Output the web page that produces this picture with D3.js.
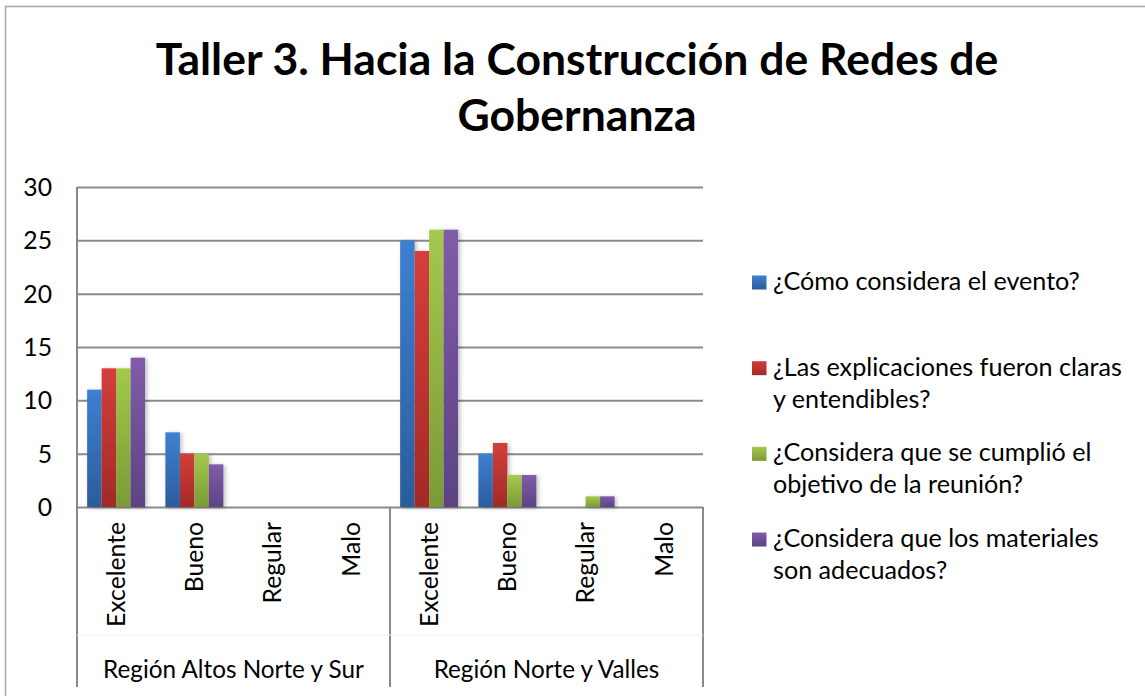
<!DOCTYPE html>
<meta charset="utf-8">
<style>
  body { margin: 0; background: #fff; }
  text { font-family: Lato, "Open Sans", sans-serif; fill: #000; }
</style>
<svg id="chart" width="1145" height="696"></svg>
<script src="https://d3js.org/d3.v7.min.js"></script>
<script>

var regions = ["Región Altos Norte y Sur", "Región Norte y Valles"],
    ratings = ["Excelente", "Bueno", "Regular", "Malo"],
    questions = [
      "¿Cómo considera el evento?",
      "¿Las explicaciones fueron claras y entendibles?",
      "¿Considera que se cumplió el objetivo de la reunión?",
      "¿Considera que los materiales son adecuados?"
    ],
    titleLines = ["Taller 3. Hacia la Construcción de Redes de", "Gobernanza"],
    yTicks = [0, 5, 10, 15, 20, 25, 30];

// values per question, region 1 (4 ratings) then region 2 (4 ratings)
var comoEvento    = [11, 7, 0, 0, 25, 5, 0, 0],
    explicaciones = [13, 5, 0, 0, 24, 6, 0, 0],
    objetivo      = [13, 5, 0, 0, 26, 3, 1, 0],
    materiales    = [14, 4, 0, 0, 26, 3, 1, 0];

var series = [comoEvento, explicaciones, objetivo, materiales];

var colors = [
  ["#3d80d1", "#2b5c9c"],
  ["#d53e3b", "#a22a27"],
  ["#a4c94d", "#7a9a36"],
  ["#805ca9", "#5c4383"]
];

var svg = d3.select("#chart"),
    plot = {left: 77, right: 703, top: 187, bottom: 507};

// gradients and bar shadow
var defs = svg.append("defs");
colors.forEach(function(c, i) {
  var g = defs.append("linearGradient")
      .attr("id", "grad" + i)
      .attr("x1", 0).attr("y1", 0).attr("x2", 0).attr("y2", 1);
  g.append("stop").attr("offset", "0%").attr("stop-color", c[0]);
  g.append("stop").attr("offset", "100%").attr("stop-color", c[1]);
});
defs.append("filter")
    .attr("id", "shadow")
    .attr("x", "-30%").attr("y", "-10%").attr("width", "170%").attr("height", "130%")
  .append("feDropShadow")
    .attr("dx", 2).attr("dy", 1).attr("stdDeviation", 2)
    .attr("flood-color", "#000").attr("flood-opacity", 0.25);

// chart border
svg.append("rect")
    .attr("x", 5.5).attr("y", 6.5)
    .attr("width", 1160).attr("height", 720)
    .attr("fill", "none")
    .attr("stroke", "#a6a6a6")
    .attr("stroke-width", 1.5);

function fitFont(sel, target) {
  var fs = parseFloat(sel.attr("font-size")),
      w = sel.node().getComputedTextLength();
  return fs * target / w;
}

// title
var title = svg.append("g").attr("font-weight", "bold");
var t1 = title.append("text")
    .attr("x", 577).attr("y", 75)
    .attr("text-anchor", "middle")
    .attr("font-size", 40)
    .text(titleLines[0]);
var titleSize = fitFont(t1, 843);
title.selectAll("text").remove();
title.selectAll("text")
    .data(titleLines)
  .enter().append("text")
    .attr("x", 577)
    .attr("y", function(d, i) { return 75 + i * 56; })
    .attr("text-anchor", "middle")
    .attr("font-size", titleSize)
    .text(function(d) { return d; });

// scales
var x0 = d3.scaleBand().domain(regions).range([plot.left, plot.right]),
    x1 = d3.scaleBand().domain(ratings).range([0, x0.bandwidth()]),
    x2 = d3.scaleBand().domain(d3.range(questions.length)).range([0, x1.bandwidth()]).paddingOuter(0.7),
    y = d3.scaleLinear().domain([0, 30]).range([plot.bottom, plot.top]);

// label font size, fitted so "Excelente" matches the reference length
var probe = svg.append("text").attr("font-size", 24).text("Excelente");
var labelSize = fitFont(probe, 105);
probe.remove();

// gridlines
svg.append("g")
    .attr("transform", "translate(" + plot.left + ",0)")
    .call(d3.axisLeft(y).tickValues(yTicks).tickSize(-(plot.right - plot.left)).tickFormat(""))
    .call(function(g) { g.select(".domain").remove(); })
    .selectAll("line")
    .attr("stroke", "#8a8a8a")
    .attr("stroke-width", 2);

// y labels
var yAxis = svg.append("g")
    .attr("transform", "translate(" + plot.left + ",0)")
    .call(d3.axisLeft(y).tickValues(yTicks).tickSize(0).tickPadding(25));
yAxis.select(".domain").remove();
yAxis.selectAll("text")
    .attr("font-size", labelSize)
    .attr("font-family", "Lato, sans-serif")
    .attr("fill", "#000")
    .attr("dy", "0.35em");

// frame lines of category axis
var frame = svg.append("g").attr("stroke", "#8a8a8a").attr("stroke-width", 2);
frame.append("line")
    .attr("x1", plot.left).attr("x2", plot.left)
    .attr("y1", plot.top).attr("y2", 687);
regions.forEach(function(r) {
  frame.append("line")
      .attr("x1", x0(r) + x0.bandwidth()).attr("x2", x0(r) + x0.bandwidth())
      .attr("y1", plot.bottom).attr("y2", 687);
});
svg.append("line")
    .attr("x1", plot.left).attr("x2", plot.right)
    .attr("y1", 635).attr("y2", 635)
    .attr("stroke", "#efefef").attr("stroke-width", 1);

// bars
var cells = [];
regions.forEach(function(r, ri) {
  ratings.forEach(function(c, ci) {
    series.forEach(function(s, si) {
      cells.push({region: r, rating: c, q: si, value: s[ri * ratings.length + ci]});
    });
  });
});

svg.append("g")
    .attr("filter", "url(#shadow)")
  .selectAll("rect")
  .data(cells.filter(function(d) { return d.value > 0; }))
  .enter().append("rect")
    .attr("x", function(d) { return x0(d.region) + x1(d.rating) + x2(d.q); })
    .attr("y", function(d) { return y(d.value); })
    .attr("width", x2.bandwidth())
    .attr("height", function(d) { return y(0) - y(d.value); })
    .attr("fill", function(d) { return "url(#grad" + d.q + ")"; });

// category labels
regions.forEach(function(r) {
  svg.append("g").selectAll("text")
      .data(ratings)
    .enter().append("text")
      .attr("transform", function(c) {
        return "translate(" + (x0(r) + x1(c) + x1.bandwidth() / 2) + ",522) rotate(-90)";
      })
      .attr("dy", "0.35em")
      .attr("text-anchor", "end")
      .attr("font-size", labelSize)
      .text(function(c) { return c; });
});

// region labels
var regionText = svg.append("g").selectAll("text")
    .data(regions)
  .enter().append("text")
    .attr("x", function(r) { return x0(r) + x0.bandwidth() / 2; })
    .attr("y", 678)
    .attr("text-anchor", "middle")
    .attr("font-size", 24)
    .text(function(r) { return r; });
var regionSize = fitFont(d3.select(regionText.nodes()[0]), 261);
regionText.attr("font-size", regionSize);

// legend
var ly = d3.scalePoint().domain(d3.range(questions.length)).range([290, 547]);
var probe2 = svg.append("text").attr("font-size", 24).text(questions[0]);
var legendSize = fitFont(probe2, 307);
probe2.remove();

var legend = svg.append("g").selectAll("g")
    .data(questions)
  .enter().append("g")
    .attr("transform", function(d, i) { return "translate(752," + ly(i) + ")"; });

legend.append("rect")
    .attr("y", -14.5)
    .attr("width", 14.5)
    .attr("height", 14)
    .attr("fill", function(d, i) { return "url(#grad" + i + ")"; });

legend.append("text")
    .attr("x", 21)
    .attr("font-size", legendSize)
    .each(function(d) {
      var text = d3.select(this),
          words = d.split(" "),
          line = [],
          tspan = text.append("tspan").attr("x", 21).attr("dy", 0);
      words.forEach(function(w) {
        line.push(w);
        tspan.text(line.join(" "));
        if (tspan.node().getComputedTextLength() > 352 && line.length > 1) {
          line.pop();
          tspan.text(line.join(" "));
          line = [w];
          tspan = text.append("tspan").attr("x", 21).attr("dy", 32).text(w);
        }
      });
    });

</script>
